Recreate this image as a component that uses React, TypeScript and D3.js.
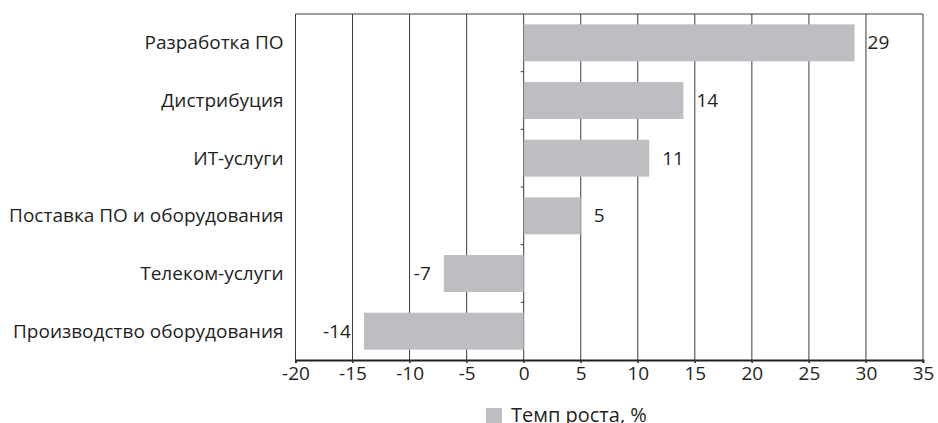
import React, { useEffect, useRef } from 'react';
import * as d3 from 'd3';

const categories = [
  'Разработка ПО',
  'Дистрибуция',
  'ИТ-услуги',
  'Поставка ПО и оборудования',
  'Телеком-услуги',
  'Производство оборудования',
];
const growth = [29, 14, 11, 5, -7, -14];
const xTicks = [-20, -15, -10, -5, 0, 5, 10, 15, 20, 25, 30, 35];
const seriesName = 'Темп роста, %';

const W = 938;
const H = 423;
const FONT = '"Open Sans", "Noto Sans", sans-serif';
const BAR = '#bdbec1';
const INK = '#231f20';

export default function App() {
  const ref = useRef<SVGSVGElement>(null);

  useEffect(() => {
    const svg = d3.select(ref.current);
    svg.selectAll('*').remove();

    const m = { top: 14, right: 15, bottom: 63, left: 295.5 };

    const x = d3.scaleLinear().domain([-20, 35]).range([m.left, W - m.right]);
    const y = d3
      .scaleBand<string>()
      .domain(categories)
      .range([m.top, H - m.bottom])
      .paddingInner(0.36)
      .paddingOuter(0.18);

    const g = svg.append('g');

    // grid lines
    g.selectAll('line.grid')
      .data(xTicks)
      .enter()
      .append('line')
      .attr('x1', (d) => x(d))
      .attr('x2', (d) => x(d))
      .attr('y1', m.top)
      .attr('y2', H - m.bottom + 3)
      .attr('stroke', '#3a3a3a')
      .attr('stroke-width', 1);

    // top frame
    g.append('line')
      .attr('x1', x(-20))
      .attr('x2', x(35))
      .attr('y1', m.top)
      .attr('y2', m.top)
      .attr('stroke', '#3a3a3a')
      .attr('stroke-width', 1);

    // bars
    g.selectAll('rect.bar')
      .data(growth)
      .enter()
      .append('rect')
      .attr('x', (d) => x(Math.min(0, d)))
      .attr('width', (d) => Math.abs(x(d) - x(0)))
      .attr('y', (d, i) => y(categories[i]) as number)
      .attr('height', y.bandwidth())
      .attr('fill', BAR);

    // category boundary ticks on zero line
    const gap = (y.step() - y.bandwidth()) / 2;
    g.selectAll('line.cat')
      .data(categories.slice(1))
      .enter()
      .append('line')
      .attr('x1', x(0) - 3)
      .attr('x2', x(0))
      .attr('y1', (d) => (y(d) as number) - gap)
      .attr('y2', (d) => (y(d) as number) - gap)
      .attr('stroke', '#3a3a3a');

    // bottom axis
    const axis = g
      .append('g')
      .attr('transform', `translate(0,${H - m.bottom})`)
      .call(
        d3
          .axisBottom(x)
          .tickValues(xTicks)
          .tickSize(3)
          .tickPadding(4)
          .tickFormat((d) => String(d))
      );
    axis.select('.domain').attr('stroke', INK).attr('stroke-width', 2);
    axis.selectAll('.tick line').attr('stroke', '#3a3a3a');
    axis
      .selectAll('.tick text')
      .attr('font-family', FONT)
      .attr('font-size', 19)
      .attr('fill', INK);

    // category labels
    g.selectAll('text.cat')
      .data(categories)
      .enter()
      .append('text')
      .attr('x', m.left - 12)
      .attr('y', (d) => (y(d) as number) + y.bandwidth() / 2)
      .attr('dy', '0.35em')
      .attr('text-anchor', 'end')
      .attr('font-family', FONT)
      .attr('font-size', 19)
      .attr('fill', INK)
      .text((d) => d);

    // value labels
    g.selectAll('text.val')
      .data(growth)
      .enter()
      .append('text')
      .attr('x', (d) => (d >= 0 ? x(d) + 13 : x(d) - 13))
      .attr('y', (d, i) => (y(categories[i]) as number) + y.bandwidth() / 2)
      .attr('dy', '0.35em')
      .attr('text-anchor', (d) => (d >= 0 ? 'start' : 'end'))
      .attr('font-family', FONT)
      .attr('font-size', 19)
      .attr('fill', INK)
      .text((d) => String(d));

    // legend
    const lg = svg.append('g').attr('transform', 'translate(486,408)');
    lg.append('rect').attr('width', 16).attr('height', 15).attr('fill', BAR);
    lg.append('text')
      .attr('x', 25)
      .attr('y', 14)
      .attr('font-family', FONT)
      .attr('font-size', 20)
      .attr('fill', INK)
      .text(seriesName);
  }, []);

  return (
    <svg
      ref={ref}
      width={W}
      height={H}
      style={{ position: 'absolute', left: 0, top: 0, background: '#fff' }}
    />
  );
}
